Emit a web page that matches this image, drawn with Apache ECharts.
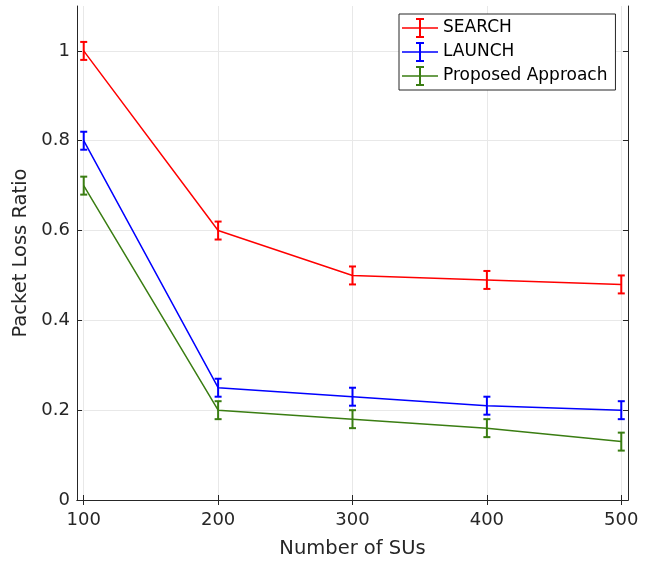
<!DOCTYPE html>
<html>
<head>
<meta charset="utf-8">
<script src="https://cdn.jsdelivr.net/npm/echarts@6/dist/echarts.min.js"></script>
<style>
html,body{margin:0;padding:0;background:#fff;}
#chart{width:649px;height:564px;}
</style>
</head>
<body>
<div id="chart"></div>
<script>
const xValues = [100, 200, 300, 400, 500];
const searchValues = [1.0, 0.60, 0.50, 0.49, 0.48];
const searchErr = [0.02, 0.02, 0.02, 0.02, 0.02];
const launchValues = [0.80, 0.25, 0.23, 0.21, 0.20];
const launchErr = [0.02, 0.02, 0.02, 0.02, 0.02];
const proposedValues = [0.70, 0.20, 0.18, 0.16, 0.13];
const proposedErr = [0.02, 0.02, 0.02, 0.02, 0.02];
const xTicks = [100, 200, 300, 400, 500];
const yTicks = [0, 0.2, 0.4, 0.6, 0.8, 1];

const seriesDefs = [
  {name: 'SEARCH', color: '#ff0000', vals: searchValues, err: searchErr},
  {name: 'LAUNCH', color: '#0000ff', vals: launchValues, err: launchErr},
  {name: 'Proposed Approach', color: '#3a7d12', vals: proposedValues, err: proposedErr}
];

const FONT = '"DejaVu Sans", "Liberation Sans", Arial, sans-serif';
const AX = '#262626';
const iconPath = 'path://M0,9.25H36V10.75H0Z M17,1H19V19H17Z M14,0H22V2H14Z M14,18H22V20H14Z';

function errorRender(color) {
  return function (params, api) {
    const x = api.value(0), lo = api.value(1), hi = api.value(2);
    const a = api.coord([x, hi]);
    const b = api.coord([x, lo]);
    const w = 3.5;
    const st = {stroke: color, lineWidth: 2, fill: null};
    return {
      type: 'group',
      children: [
        {type: 'line', shape: {x1: a[0], y1: a[1], x2: b[0], y2: b[1]}, style: st},
        {type: 'line', shape: {x1: a[0] - w, y1: a[1], x2: a[0] + w, y2: a[1]}, style: st},
        {type: 'line', shape: {x1: b[0] - w, y1: b[1], x2: b[0] + w, y2: b[1]}, style: st}
      ]
    };
  };
}

const series = [];
seriesDefs.forEach(function (d) {
  series.push({
    name: d.name, type: 'line',
    data: xValues.map(function (x, i) { return [x, d.vals[i]]; }),
    showSymbol: false, symbol: 'none',
    lineStyle: {color: d.color, width: 1.5},
    itemStyle: {color: d.color},
    color: d.color,
    animation: false, z: 3
  });
  series.push({
    name: d.name, type: 'custom',
    data: xValues.map(function (x, i) { return [x, d.vals[i] - d.err[i], d.vals[i] + d.err[i]]; }),
    encode: {x: 0, y: [1, 2]},
    renderItem: errorRender(d.color),
    itemStyle: {color: d.color},
    color: d.color,
    animation: false, z: 4
  });
});

const axisBase = {
  axisLine: {show: true, lineStyle: {color: AX, width: 1}}
};

const option = {
  backgroundColor: '#ffffff',
  animation: false,
  grid: {left: 77, right: 21, top: 6, bottom: 64, containLabel: false},
  legend: {
    orient: 'vertical', left: 399, top: 14,
    backgroundColor: '#ffffff', borderColor: AX, borderWidth: 1,
    padding: [4, 8, 4, 3], itemGap: 4,
    itemWidth: 36, itemHeight: 20,
    textStyle: {fontFamily: FONT, fontSize: 17, color: '#000'},
    data: seriesDefs.map(function (d) { return {name: d.name, icon: iconPath, itemStyle: {color: d.color}}; })
  },
  xAxis: [
    Object.assign({}, axisBase, {
      type: 'value', min: 95, max: 505, position: 'bottom',
      axisTick: {show: true, inside: true, length: 5, lineStyle: {color: AX}, customValues: xTicks},
      axisLabel: {show: true, customValues: xTicks, color: AX, fontFamily: FONT, fontSize: 18, margin: 11},
      splitLine: {show: true, lineStyle: {color: '#e8e8e8', width: 1}},
      name: 'Number of SUs', nameLocation: 'middle', nameGap: 39,
      nameTextStyle: {fontFamily: FONT, fontSize: 19.5, color: AX}
    }),
    Object.assign({}, axisBase, {
      type: 'value', min: 95, max: 505, position: 'top',
      axisTick: {show: true, inside: true, length: 5, lineStyle: {color: AX}, customValues: xTicks},
      axisLabel: {show: false},
      splitLine: {show: false}
    })
  ],
  yAxis: [
    Object.assign({}, axisBase, {
      type: 'value', min: 0, max: 1.1, position: 'left',
      axisTick: {show: true, inside: true, length: 5, lineStyle: {color: AX}, customValues: yTicks},
      axisLabel: {show: true, customValues: yTicks, color: AX, fontFamily: FONT, fontSize: 18, margin: 7,
        formatter: function (v) { return String(Math.round(v * 10) / 10); }},
      splitLine: {show: true, lineStyle: {color: '#e8e8e8', width: 1}},
      name: 'Packet Loss Ratio', nameLocation: 'middle', nameGap: 43,
      nameTextStyle: {fontFamily: FONT, fontSize: 19.5, color: AX}
    }),
    Object.assign({}, axisBase, {
      type: 'value', min: 0, max: 1.1, position: 'right',
      axisTick: {show: true, inside: true, length: 5, lineStyle: {color: AX}, customValues: yTicks},
      axisLabel: {show: false},
      splitLine: {show: false}
    })
  ],
  series: series
};

const chart = echarts.init(document.getElementById('chart'), null, {renderer: 'canvas'});
chart.setOption(option);
</script>
</body>
</html>
